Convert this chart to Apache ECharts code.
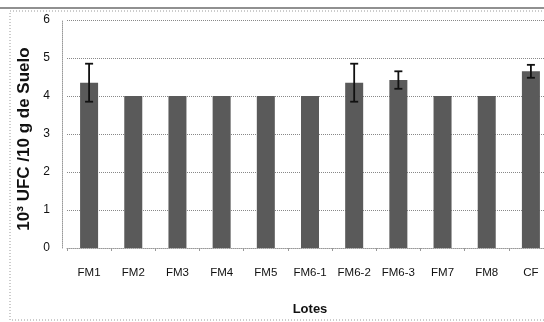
<!DOCTYPE html>
<html>
<head>
<meta charset="utf-8">
<script src="https://cdn.jsdelivr.net/npm/echarts@6/dist/echarts.min.js"></script>
<style>
html,body{margin:0;padding:0;background:#fff;}
#chart{width:544px;height:322px;}
</style>
</head>
<body>
<div id="chart"></div>
<script>
var lotes = ['FM1','FM2','FM3','FM4','FM5','FM6-1','FM6-2','FM6-3','FM7','FM8','CF'];
var valores = [4.35, 4.0, 4.0, 4.0, 4.0, 4.0, 4.35, 4.42, 4.0, 4.0, 4.65];
var errores = [0.5, 0, 0, 0, 0, 0, 0.5, 0.23, 0, 0, 0.17];
var yTicks = [0, 1, 2, 3, 4, 5, 6];

var errData = [];
for (var i = 0; i < lotes.length; i++) {
    if (errores[i] > 0) errData.push([i, valores[i] - errores[i], valores[i] + errores[i]]);
}

var myChart = echarts.init(document.getElementById('chart'));
var option = {
    animation: false,
    backgroundColor: '#fff',
    textStyle: {fontFamily: 'Liberation Sans, Arial, sans-serif'},
    graphic: [
        {type: 'line', shape: {x1: 0, y1: 8, x2: 544, y2: 8}, style: {stroke: '#222', lineWidth: 1.2}},
        {type: 'rect', shape: {x: 10, y: 11, width: 540, height: 309},
         style: {fill: 'none', stroke: '#999', lineWidth: 1, lineDash: [1, 2]}}
    ],
    grid: {left: 67, top: 20, width: 486, height: 228, outerBoundsMode: 'none', containLabel: false},
    xAxis: {
        type: 'category',
        data: lotes,
        name: 'Lotes',
        nameLocation: 'middle',
        nameGap: 55,
        nameTextStyle: {fontSize: 13, fontWeight: 'bold', color: '#111'},
        axisLine: {lineStyle: {color: '#999', type: 'dotted'}},
        axisTick: {show: true, lineStyle: {color: '#999'}, length: 3},
        axisLabel: {fontSize: 11.5, color: '#111', margin: 19, interval: 0}
    },
    yAxis: {
        type: 'value',
        min: 0,
        max: 6,
        interval: 1,
        offset: 5,
        name: '10³ UFC /10 g de Suelo',
        nameLocation: 'middle',
        nameGap: 18,
        nameTextStyle: {fontSize: 17, fontWeight: 'bold', color: '#111', padding: [0, 10, 0, 0]},
        axisLine: {show: true, lineStyle: {color: '#999', type: 'dotted'}},
        axisTick: {show: false},
        axisLabel: {fontSize: 12, color: '#111', margin: 12},
        splitLine: {show: true, lineStyle: {color: '#888', type: 'dotted'}}
    },
    series: [
        {
            name: 'UFC',
            type: 'bar',
            data: valores,
            barWidth: 18,
            itemStyle: {color: '#5a5a5a'}
        },
        {
            name: 'error',
            type: 'custom',
            data: errData,
            z: 10,
            renderItem: function (params, api) {
                var x = api.value(0);
                var lo = api.coord([x, api.value(1)]);
                var hi = api.coord([x, api.value(2)]);
                var cap = 4;
                var st = {stroke: '#111', lineWidth: 1.8};
                return {
                    type: 'group',
                    children: [
                        {type: 'line', shape: {x1: hi[0], y1: hi[1], x2: lo[0], y2: lo[1]}, style: st},
                        {type: 'line', shape: {x1: hi[0] - cap, y1: hi[1], x2: hi[0] + cap, y2: hi[1]}, style: st},
                        {type: 'line', shape: {x1: lo[0] - cap, y1: lo[1], x2: lo[0] + cap, y2: lo[1]}, style: st}
                    ]
                };
            }
        }
    ]
};
myChart.setOption(option);
</script>
</body>
</html>
